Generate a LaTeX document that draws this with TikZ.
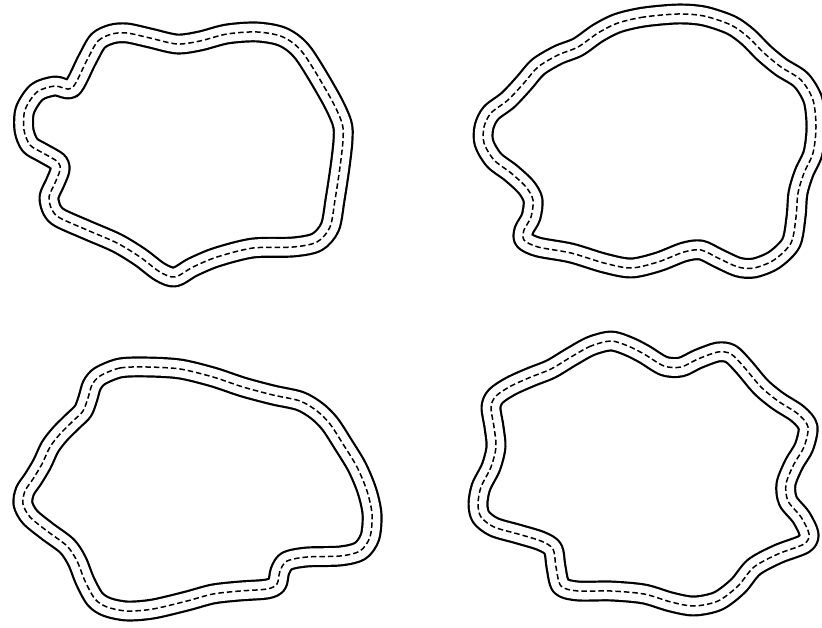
\documentclass[tikz,border=0pt]{standalone}
\begin{document}
\begin{tikzpicture}[x=1pt,y=-1pt,
  roadout/.style={line width=21pt,black,line join=round},
  roadin/.style={line width=16.6pt,white,line join=round},
  roadmid/.style={line width=1.5pt,black,dash pattern=on 5.5pt off 3pt}]
\useasboundingbox[fill=white] (0,0) rectangle (822,628);
\newcommand\roadloop[1]{%
  \draw[roadout] plot[smooth cycle] coordinates {#1};
  \draw[roadin] plot[smooth cycle] coordinates {#1};
  \draw[roadmid] plot[smooth cycle] coordinates {#1};}
% top left
\roadloop{(87,60) (98,41) (112,34) (127,33) (150,38) (177,44) (200,41) (227,34) (257,32) (283,37) (303,53) (330,97) (342,123) (343,140) (340,167) (335,200) (330,227) (317,242) (293,247) (253,248) (217,257) (193,267) (175,277) (160,272) (140,257) (117,243) (87,230) (60,218) (52,210) (49,197) (55,183) (60,170) (58,162) (43,153) (30,145) (24,130) (25,110) (37,92) (55,86) (72,88)}
% top right
\roadloop{(678,14) (644,17) (618,23) (598,33) (578,47) (558,55) (538,67) (524,83) (508,100) (491,113) (484,127) (484,143) (494,160) (511,173) (526,187) (533,200) (531,217) (524,230) (524,240) (538,247) (571,253) (604,263) (631,268) (658,262) (684,252) (701,250) (718,258) (738,267) (754,268) (774,260) (791,243) (796,217) (798,193) (804,173) (813,153) (816,127) (813,100) (801,80) (781,67) (764,53) (748,37) (731,25) (704,16)}
% bottom left
\roadloop{(147,367) (120,368) (100,376) (92,385) (88,398) (83,411) (73,421) (60,434) (50,447) (42,464) (33,479) (25,491) (23,504) (30,517) (47,531) (67,546) (77,561) (85,581) (95,599) (107,607) (127,611) (153,609) (187,601) (213,594) (240,591) (267,589) (277,584) (280,571) (287,561) (307,557) (340,556) (360,551) (370,537) (372,514) (367,491) (357,467) (343,444) (330,424) (317,411) (300,401) (273,395) (243,387) (213,377) (180,369)}
% bottom right
\roadloop{(611,341) (591,346) (571,357) (551,369) (531,377) (511,386) (496,396) (491,407) (494,427) (496,447) (491,467) (481,487) (478,504) (481,517) (494,527) (518,534) (541,541) (553,549) (556,567) (561,586) (578,591) (611,591) (644,594) (671,602) (694,606) (718,601) (738,586) (754,567) (778,554) (804,544) (809,534) (801,517) (788,501) (786,484) (794,464) (804,447) (808,427) (798,414) (778,401) (761,387) (744,367) (731,354) (718,352) (698,359) (681,367) (664,366) (644,354) (628,346)}
\end{tikzpicture}
\end{document}
